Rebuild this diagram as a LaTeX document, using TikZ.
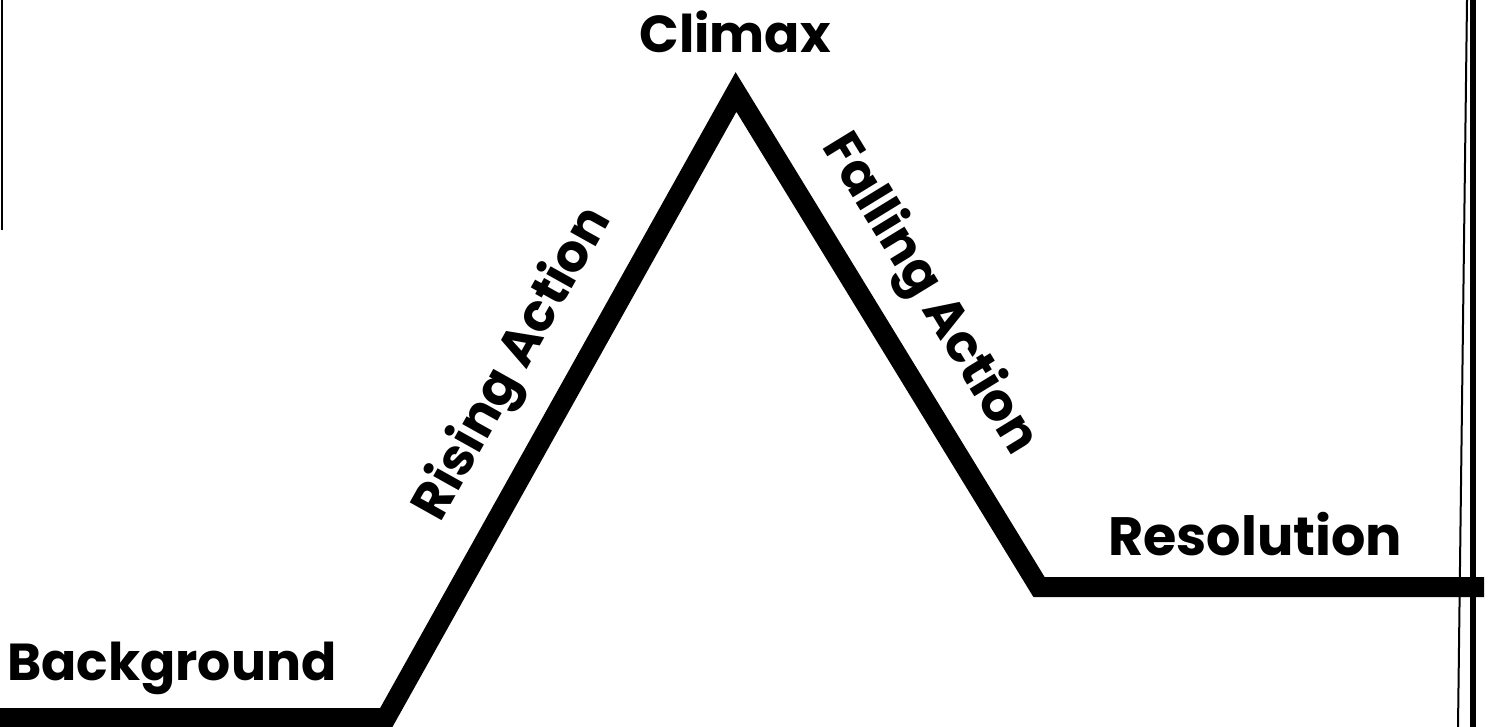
\documentclass[tikz,border=0pt]{standalone}
\usepackage{fontspec}
\setmainfont{Poppins}
\begin{document}
\begin{tikzpicture}[x=1pt,y=-1pt,
  plotline/.style={line width=20pt, line join=miter, line cap=butt, black},
  lbl/.style={font=\fontsize{52}{58}\selectfont\bfseries, inner sep=0pt}]
\useasboundingbox (0,0) rectangle (1494,727);
\fill[white] (0,0) rectangle (1494,727);
\coordinate (s) at (0,718);
\coordinate (b) at (386,718);
\coordinate (p) at (736,92);
\coordinate (r) at (1039,587);
\coordinate (e) at (1484,587);
\draw[plotline] (s) -- (b) -- (p) -- (r) -- (e);
% edge lines
\coordinate (l1) at (2,0); \coordinate (l2) at (2,230);
\draw[line width=2.5pt] (l1) -- (l2);
\coordinate (r1) at (1473,0); \coordinate (r2) at (1473,727);
\draw[line width=6pt] (r1) -- (r2);
\coordinate (t1) at (1467,0); \coordinate (t2) at (1458,727);
\draw[line width=2pt] (t1) -- (t2);
% labels
\node[lbl, anchor=base] (climax) at (735,53) {Climax};
\node[lbl, anchor=base west] (bg) at (7,680) {Background};
\node[lbl, anchor=base west, font=\fontsize{54}{60}\selectfont\bfseries] (res) at (1108,555) {Resolution};
\node[lbl, anchor=base, rotate=60.8] (rise) at (526,371) {Rising Action};
\node[lbl, anchor=base, rotate=-58.5] (fall) at (917,302) {Falling Action};
\end{tikzpicture}
\end{document}
